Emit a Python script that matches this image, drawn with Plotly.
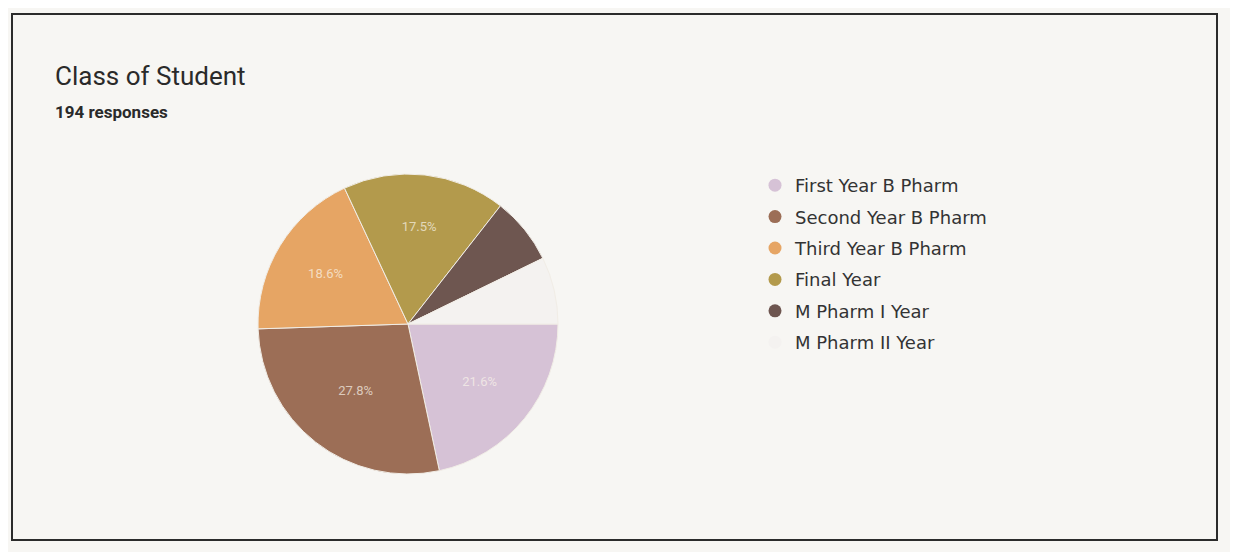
import plotly.graph_objects as go

# Responses per class (194 in total)
classes = ['First Year B Pharm', 'Second Year B Pharm', 'Third Year B Pharm',
           'Final Year', 'M Pharm I Year', 'M Pharm II Year']
counts = [42, 54, 36, 34, 14, 14]
slice_colors = ['#d6c2d6', '#9c6e56', '#e6a564', '#b39a4c', '#6e5650', '#f4f2f0']

title_text = 'Class of Student'
subtitle_text = '194 responses'

W, H = 1238, 552
OFF = 8  # page body margin shifts the figure by this much


def px_x(x):
    return (x - OFF) / W


def px_y(y):
    return 1 - (y - OFF) / H


# only the larger slices carry a percentage label
texttemplates = ['%{percent:.1%}' if c >= 30 else '' for c in counts]

fig = go.Figure(go.Pie(
    labels=classes,
    values=counts,
    sort=False,
    direction='clockwise',
    rotation=90,
    showlegend=False,
    marker=dict(colors=slice_colors, line=dict(color='#f1ede6', width=1)),
    texttemplate=texttemplates,
    textposition='inside',
    insidetextfont=dict(color='rgba(250,245,235,0.7)', size=13, family='Roboto'),
    domain=dict(x=[px_x(258), px_x(558)], y=[px_y(478), px_y(170)]),
    hovertemplate='%{label}: %{value} (%{percent})<extra></extra>',
))

# legend with round markers, one group per class for spacing
for i, (name, col) in enumerate(zip(classes, slice_colors)):
    fig.add_trace(go.Scatter(
        x=[None], y=[None], mode='markers', name=name,
        legendgroup=str(i),
        marker=dict(size=13, color=col, symbol='circle'),
    ))

# card outline
fig.add_shape(type='rect', xref='paper', yref='paper',
              x0=px_x(12), x1=px_x(1217), y0=px_y(540), y1=px_y(14),
              line=dict(color='#2b2b2b', width=2), layer='below')

fig.add_annotation(text=title_text, xref='paper', yref='paper',
                   x=px_x(53), y=px_y(76), xanchor='left', yanchor='middle',
                   showarrow=False, font=dict(size=26, color='#2a2a2a', family='Roboto'))
fig.add_annotation(text='<b>' + subtitle_text + '</b>', xref='paper', yref='paper',
                   x=px_x(53), y=px_y(112), xanchor='left', yanchor='middle',
                   showarrow=False, font=dict(size=17, color='#2a2a2a', family='Roboto'))

fig.update_layout(
    width=W, height=H,
    margin=dict(l=0, r=0, t=0, b=0),
    paper_bgcolor='#f7f6f3',
    plot_bgcolor='#f7f6f3',
    xaxis=dict(visible=False),
    yaxis=dict(visible=False),
    showlegend=True,
    legend=dict(
        x=px_x(755), y=px_y(167), xanchor='left', yanchor='top',
        font=dict(size=18, color='#333333', family='DejaVu Sans'),
        tracegroupgap=5,
        bgcolor='rgba(0,0,0,0)',
    ),
)

fig.write_html('out.html')
